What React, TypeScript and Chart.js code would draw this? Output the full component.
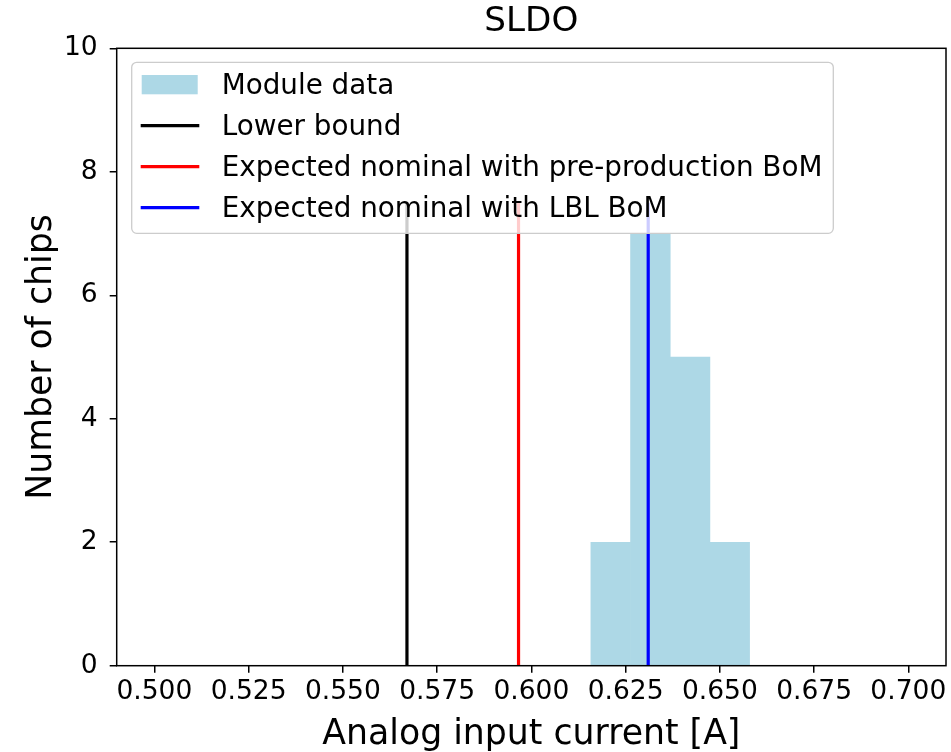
import React, { useEffect, useRef } from 'react';
import { Chart, registerables } from 'chart.js';

Chart.register(...registerables);

// ---- data ----
const binEdges = [0.61579, 0.62632, 0.63684, 0.64737, 0.65789];
const binCounts = [2, 7, 5, 2];
const lowerBound = 0.567;
const nominalPreProd = 0.5966;
const nominalLBL = 0.631;
const vlineTop = 7.5;
const xTicks = [0.5, 0.525, 0.55, 0.575, 0.6, 0.625, 0.65, 0.675, 0.7];
const yTicks = [0, 2, 4, 6, 8, 10];
const legendLabels = [
  'Module data',
  'Lower bound',
  'Expected nominal with pre-production BoM',
  'Expected nominal with LBL BoM',
];
const seriesColors = ['#add8e6', '#000000', '#ff0000', '#0000ff'];
const titleText = 'SLDO';
const xLabel = 'Analog input current [A]';
const yLabel = 'Number of chips';

const FONT = '"DejaVu Sans", "Liberation Sans", sans-serif';

const overlayPlugin = {
  id: 'overlay',
  afterDatasetsDraw(chart: any) {
    const ctx = chart.ctx as CanvasRenderingContext2D;
    ctx.save();
    // legend box
    const bx = 131.7, by = 62.3, bw = 701.6, bh = 171, r = 5;
    ctx.beginPath();
    ctx.moveTo(bx + r, by);
    ctx.lineTo(bx + bw - r, by);
    ctx.arcTo(bx + bw, by, bx + bw, by + r, r);
    ctx.lineTo(bx + bw, by + bh - r);
    ctx.arcTo(bx + bw, by + bh, bx + bw - r, by + bh, r);
    ctx.lineTo(bx + r, by + bh);
    ctx.arcTo(bx, by + bh, bx, by + bh - r, r);
    ctx.lineTo(bx, by + r);
    ctx.arcTo(bx, by, bx + r, by, r);
    ctx.closePath();
    ctx.fillStyle = 'rgba(255,255,255,0.8)';
    ctx.fill();
    ctx.strokeStyle = '#cccccc';
    ctx.lineWidth = 1.3;
    ctx.stroke();

    ctx.font = `27.8px ${FONT}`;
    ctx.textAlign = 'left';
    ctx.textBaseline = 'alphabetic';
    legendLabels.forEach((label, i) => {
      const base = 94 + i * 41;
      const mid = base - 9.4;
      if (i === 0) {
        ctx.fillStyle = seriesColors[0];
        ctx.fillRect(141.7, mid - 9.6, 56, 19.3);
      } else {
        ctx.strokeStyle = seriesColors[i];
        ctx.lineWidth = 3.3;
        ctx.beginPath();
        ctx.moveTo(140.7, mid);
        ctx.lineTo(199.3, mid);
        ctx.stroke();
      }
      ctx.fillStyle = '#000';
      ctx.fillText(label, 221.7, base);
    });
    ctx.restore();
  },
  afterDraw(chart: any) {
    const ctx = chart.ctx as CanvasRenderingContext2D;
    const a = chart.chartArea;
    ctx.save();
    ctx.strokeStyle = '#000';
    ctx.lineWidth = 1.5;
    ctx.strokeRect(a.left, a.top, a.right - a.left, a.bottom - a.top);

    const cx = (a.left + a.right) / 2;
    const cy = (a.top + a.bottom) / 2;
    ctx.fillStyle = '#000';
    ctx.textAlign = 'center';
    ctx.textBaseline = 'alphabetic';
    ctx.font = `34.2px ${FONT}`;
    ctx.fillText(titleText, cx, 31);
    ctx.font = `34.7px ${FONT}`;
    ctx.fillText(xLabel, cx, 744);
    ctx.translate(50.5, cy);
    ctx.rotate(-Math.PI / 2);
    ctx.fillText(yLabel, 0, 0);
    ctx.restore();
  },
};

export default function App() {
  const ref = useRef<HTMLCanvasElement | null>(null);
  useEffect(() => {
    if (!ref.current) return;
    const histData = binCounts.map((c, i) => ({ x: (binEdges[i] + binEdges[i + 1]) / 2, y: c }));
    const vline = (x: number) => [
      { x, y: 0 },
      { x, y: vlineTop },
    ];
    const chart = new Chart(ref.current, {
      type: 'bar',
      data: {
        datasets: [
          {
            type: 'bar',
            label: legendLabels[0],
            data: histData,
            backgroundColor: seriesColors[0],
            borderWidth: 0,
            barPercentage: 1,
            categoryPercentage: 1,
            order: 5,
          } as any,
          {
            type: 'line',
            label: legendLabels[1],
            data: vline(lowerBound),
            borderColor: seriesColors[1],
            borderWidth: 3.2,
            pointRadius: 0,
            order: 3,
          },
          {
            type: 'line',
            label: legendLabels[2],
            data: vline(nominalPreProd),
            borderColor: seriesColors[2],
            borderWidth: 3.2,
            pointRadius: 0,
            order: 2,
          },
          {
            type: 'line',
            label: legendLabels[3],
            data: vline(nominalLBL),
            borderColor: seriesColors[3],
            borderWidth: 3.2,
            pointRadius: 0,
            order: 1,
          },
        ],
      },
      options: {
        animation: false,
        responsive: true,
        maintainAspectRatio: false,
        devicePixelRatio: 1,
        layout: { padding: { top: 48.3, right: 5, left: 0, bottom: 0 } },
        plugins: { legend: { display: false }, tooltip: { enabled: false }, title: { display: false } },
        scales: {
          x: {
            type: 'linear',
            min: 0.49,
            max: 0.71,
            offset: false,
            grid: { display: true, offset: false, drawOnChartArea: false, drawTicks: true, tickLength: 7, color: '#000', lineWidth: 1.5 },
            border: { display: false },
            ticks: {
              color: '#000',
              font: { family: FONT, size: 26.5 },
              padding: 4,
              maxRotation: 0,
              autoSkip: false,
              callback: (v: any) => Number(v).toFixed(3),
            },
            afterBuildTicks: (s: any) => {
              s.ticks = xTicks.map((v) => ({ value: v }));
            },
            afterFit: (s: any) => {
              s.height = 86.3;
            },
          },
          y: {
            type: 'linear',
            min: 0,
            max: 10,
            grid: { display: true, offset: false, drawOnChartArea: false, drawTicks: true, tickLength: 7, color: '#000', lineWidth: 1.5 },
            border: { display: false },
            ticks: {
              color: '#000',
              font: { family: FONT, size: 26.5 },
              padding: 12,
              autoSkip: false,
              callback: (v: any) => String(v),
            },
            afterBuildTicks: (s: any) => {
              s.ticks = yTicks.map((v) => ({ value: v }));
            },
            afterFit: (s: any) => {
              s.width = 116.7;
            },
          },
        },
      },
      plugins: [overlayPlugin],
    });
    return () => chart.destroy();
  }, []);
  return (
    <div style={{ position: 'absolute', left: 0, top: 0, width: 951, height: 752, background: '#fff' }}>
      <canvas ref={ref} />
    </div>
  );
}
